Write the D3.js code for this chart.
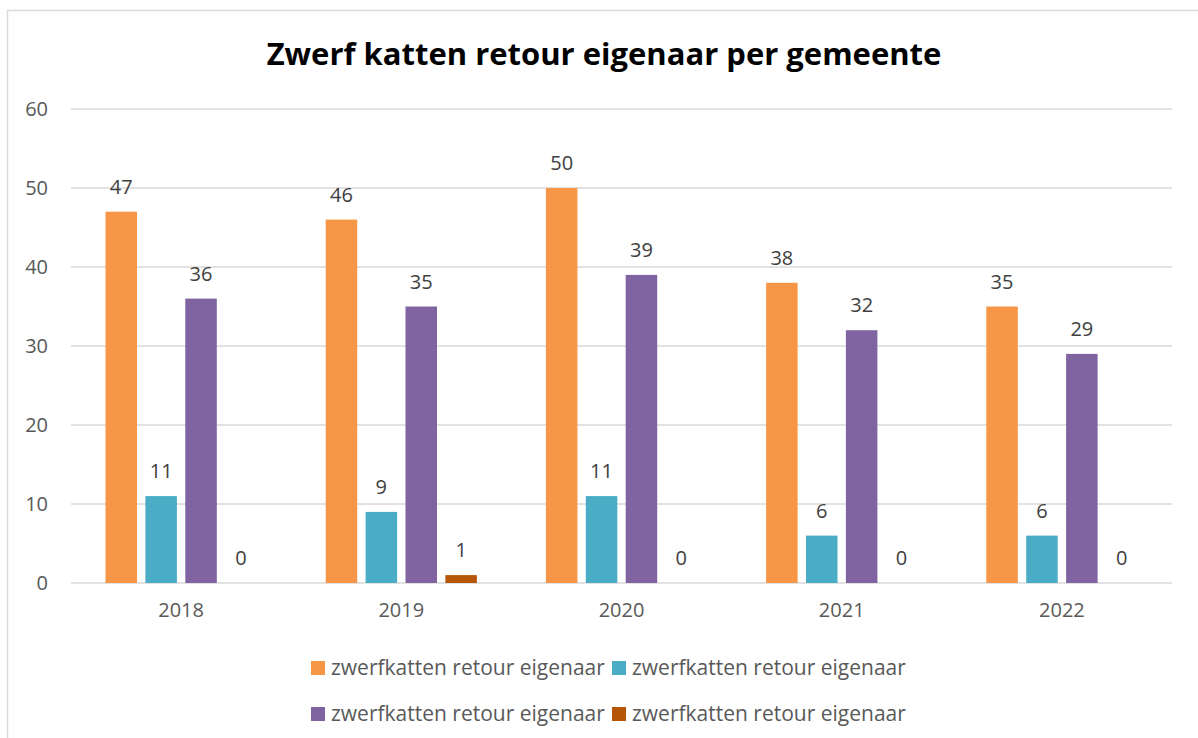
<!DOCTYPE html>
<html>
<head>
<meta charset="utf-8">
<script src="https://cdn.jsdelivr.net/npm/d3@7"></script>
<style>
  body { margin: 0; background: #fff; }
  svg { display: block; font-family: "Open Sans", sans-serif; }
</style>
</head>
<body>
<svg id="chart" width="1198" height="738"></svg>
<script>
const svg = d3.select('#chart');

// data
const years = ['2018', '2019', '2020', '2021', '2022'];
const seriesNames = ['zwerfkatten retour eigenaar', 'zwerfkatten retour eigenaar',
                     'zwerfkatten retour eigenaar', 'zwerfkatten retour eigenaar'];
const series1 = [47, 46, 50, 38, 35];
const series2 = [11, 9, 11, 6, 6];
const series3 = [36, 35, 39, 32, 29];
const series4 = [0, 1, 0, 0, 0];
const yTicks = [0, 10, 20, 30, 40, 50, 60];
const colors = ['#F79646', '#4BACC6', '#8064A2', '#B65708'];

const allSeries = [series1, series2, series3, series4];
const rows = years.map((y, i) => ({ year: y, values: allSeries.map((s, k) => ({ key: k, value: s[i] })) }));

const margin = { left: 71, top: 109 };
const plotRight = 1172;
const plotBottom = 583;
const fontFam = '"Open Sans", sans-serif';

// chart border (only left/top visible in the frame)
svg.append('rect')
    .attr('x', 7.5).attr('y', 10.5)
    .attr('width', 1230).attr('height', 760)
    .attr('fill', 'none')
    .attr('stroke', '#d9d9d9')
    .attr('stroke-width', 1.5);

// title
svg.append('text')
    .attr('x', 604).attr('y', 65)
    .attr('text-anchor', 'middle')
    .style('font-size', '31px')
    .style('font-weight', 'bold')
    .style('fill', '#000')
    .text('Zwerf katten retour eigenaar per gemeente');

const x0 = d3.scaleBand()
    .domain(years)
    .range([margin.left, plotRight]);

const x1 = d3.scaleBand()
    .domain(d3.range(4))
    .range([34.5, x0.bandwidth() - 34.5])
    .paddingInner(0.21);

const yScale = d3.scaleLinear()
    .domain([0, 60])
    .range([plotBottom, margin.top]);

// gridlines
svg.append('g')
    .selectAll('line')
    .data(yTicks)
    .enter().append('line')
    .attr('x1', margin.left).attr('x2', plotRight)
    .attr('y1', d => yScale(d)).attr('y2', d => yScale(d))
    .attr('stroke', '#d9d9d9')
    .attr('stroke-width', 1.5);

// y axis labels
const yAxis = svg.append('g')
    .attr('transform', 'translate(' + (margin.left - 23) + ',0)')
    .call(d3.axisLeft(yScale).tickValues(yTicks).tickSize(0).tickPadding(0));
yAxis.select('.domain').remove();
yAxis.selectAll('text')
    .style('font-family', fontFam)
    .style('font-size', '20px')
    .style('fill', '#595959');

// x axis labels
const xAxis = svg.append('g')
    .attr('transform', 'translate(0,' + plotBottom + ')')
    .call(d3.axisBottom(x0).tickSize(0).tickPadding(20));
xAxis.select('.domain').remove();
xAxis.selectAll('text')
    .style('font-family', fontFam)
    .style('font-size', '20px')
    .style('fill', '#595959');

// bars
const groups = svg.append('g')
    .selectAll('g')
    .data(rows)
    .enter().append('g')
    .attr('transform', d => 'translate(' + x0(d.year) + ',0)');

groups.selectAll('rect')
    .data(d => d.values)
    .enter().append('rect')
    .attr('x', d => x1(d.key))
    .attr('width', x1.bandwidth())
    .attr('y', d => yScale(d.value))
    .attr('height', d => plotBottom - yScale(d.value))
    .attr('fill', d => colors[d.key]);

// data labels
groups.selectAll('text.lbl')
    .data(d => d.values)
    .enter().append('text')
    .attr('class', 'lbl')
    .attr('x', d => x1(d.key) + x1.bandwidth() / 2)
    .attr('y', d => yScale(d.value) - 18)
    .attr('text-anchor', 'middle')
    .style('font-size', '20px')
    .style('fill', '#404040')
    .text(d => d.value);

// legend
const legendPos = [[311, 675], [612, 675], [311, 721], [612, 721]];
const legend = svg.append('g')
    .selectAll('g')
    .data(seriesNames)
    .enter().append('g')
    .attr('transform', (d, i) => 'translate(' + legendPos[i][0] + ',' + legendPos[i][1] + ')');

legend.append('rect')
    .attr('x', 0).attr('y', -14)
    .attr('width', 14).attr('height', 14)
    .attr('fill', (d, i) => colors[i]);

legend.append('text')
    .attr('x', 20).attr('y', 0)
    .style('font-size', '21px')
    .style('fill', '#595959')
    .text(d => d);
</script>
</body>
</html>
